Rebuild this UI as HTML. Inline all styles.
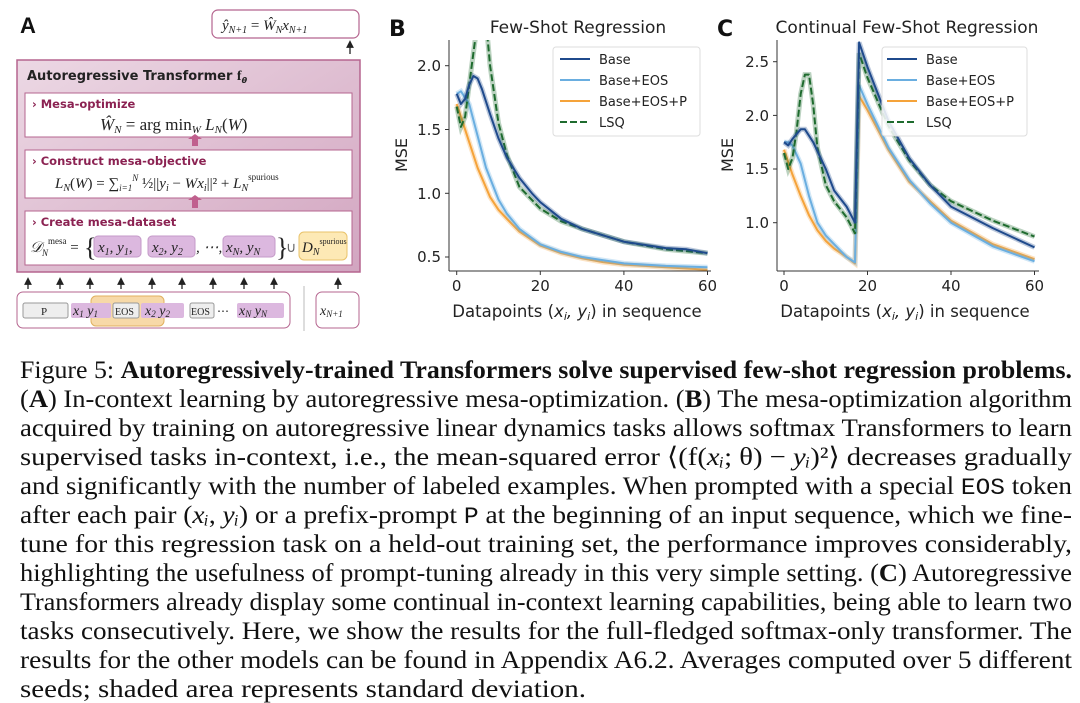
<!DOCTYPE html>
<html><head><meta charset="utf-8"><style>
html,body{margin:0;padding:0;background:#fff;}
svg{display:block;}
.cap{font-family:"Liberation Serif",serif;font-size:25.5px;fill:#111;}
.ax{font-family:"DejaVu Sans","Liberation Sans",sans-serif;fill:#222;}
.hd{font-family:"DejaVu Sans","Liberation Sans",sans-serif;font-weight:bold;font-size:11.5px;fill:#8b2252;}
.mt{font-family:"Liberation Serif",serif;font-style:italic;fill:#222;}
</style></head><body>
<svg id="s" width="1080" height="703" xmlns="http://www.w3.org/2000/svg">
<defs>
<linearGradient id="pg" x1="0" y1="0" x2="1" y2="1"><stop offset="0" stop-color="#ecd8e4"/><stop offset="1" stop-color="#d2a5c0"/></linearGradient>
<clipPath id="cb"><rect x="449" y="40" width="262" height="231"/></clipPath>
<clipPath id="cc"><rect x="777" y="40" width="262" height="231"/></clipPath>
<marker id="ar" markerWidth="6" markerHeight="6" refX="3" refY="3" orient="auto"><path d="M0,0 L6,3 L0,6 z" fill="#222"/></marker>
</defs>
<!-- Panel A -->
<text x="20" y="33" font-family="Liberation Sans,sans-serif" font-weight="bold" font-size="22" fill="#111">A</text>
<rect x="212" y="10" width="147" height="28" rx="6" fill="#fff" stroke="#b5658f" stroke-width="1.2"/>
<text x="222" y="30" class="mt" font-size="15">ŷ<tspan font-size="10" dy="3">N+1</tspan><tspan dy="-3" font-style="normal"> = </tspan>Ŵ<tspan font-size="10" dy="3">N</tspan><tspan dy="-3">x</tspan><tspan font-size="10" dy="3">N+1</tspan></text>
<line x1="350" y1="54" x2="350" y2="44" stroke="#222" stroke-width="1.3" marker-end="url(#ar)"/>
<rect x="17" y="60" width="343" height="212" fill="url(#pg)" stroke="#b5658f" stroke-width="1.5"/>
<text x="27" y="80" font-family="DejaVu Sans,sans-serif" font-weight="bold" font-size="13" fill="#222">Autoregressive Transformer <tspan font-family="Liberation Serif,serif" font-size="14">f</tspan><tspan font-size="8" dy="3" font-style="italic">θ</tspan></text>
<rect x="25" y="93" width="327" height="44" fill="#fff" stroke="#b5658f"/>
<text x="32" y="108" class="hd">› Mesa-optimize</text>
<text x="100" y="130" class="mt" font-size="17">Ŵ<tspan font-size="11" dy="3">N</tspan><tspan dy="-3" font-style="normal"> = arg min</tspan><tspan font-size="11" dy="3">W</tspan><tspan dy="-3"> L</tspan><tspan font-size="11" dy="3">N</tspan><tspan dy="-3" font-style="normal">(</tspan>W<tspan font-style="normal">)</tspan></text>
<path d="M188,139 l7,-5 l7,5 h-4 v7 h-6 v-7 z" fill="#c0608e"/>
<rect x="25" y="150" width="327" height="48" fill="#fff" stroke="#b5658f"/>
<text x="32" y="165" class="hd">› Construct mesa-objective</text>
<text x="55" y="188" class="mt" font-size="15">L<tspan font-size="10" dy="3">N</tspan><tspan dy="-3" font-style="normal">(</tspan>W<tspan font-style="normal">) = ∑</tspan><tspan font-size="9" dy="3">i=1</tspan><tspan font-size="9" dy="-10">N</tspan><tspan dy="7" font-style="normal"> ½||</tspan>y<tspan font-size="10" dy="3">i</tspan><tspan dy="-3" font-style="normal"> − </tspan>Wx<tspan font-size="10" dy="3">i</tspan><tspan dy="-3" font-style="normal">||² + </tspan>L<tspan font-size="10" dy="3">N</tspan><tspan font-size="9" dy="-11" font-style="normal">spurious</tspan></text>
<path d="M188,200 l7,-5 l7,5 h-4 v8 h-6 v-8 z" fill="#c0608e"/>
<rect x="25" y="211" width="327" height="54" fill="#fff" stroke="#b5658f"/>
<text x="32" y="226" class="hd">› Create mesa-dataset</text>
<text x="30" y="252" class="mt" font-size="15">𝒟<tspan font-size="9" dy="4">N</tspan><tspan font-size="9" dy="-12" font-style="normal">mesa</tspan><tspan dy="8" font-style="normal" font-size="15"> =</tspan></text>
<text x="84" y="256" font-family="Liberation Serif,serif" font-size="26" fill="#222">{</text>
<rect x="94" y="236" width="47" height="21" rx="4" fill="#dcb8df" stroke="#c49ac8"/>
<rect x="148" y="236" width="47" height="21" rx="4" fill="#dcb8df" stroke="#c49ac8"/>
<rect x="223" y="236" width="52" height="21" rx="4" fill="#dcb8df" stroke="#c49ac8"/>
<text x="98" y="252" class="mt" font-size="15">x<tspan font-size="10" dy="3">1</tspan><tspan dy="-3">, y</tspan><tspan font-size="10" dy="3">1</tspan><tspan dy="-3" font-style="normal">,   </tspan></text>
<text x="152" y="252" class="mt" font-size="15">x<tspan font-size="10" dy="3">2</tspan><tspan dy="-3">, y</tspan><tspan font-size="10" dy="3">2</tspan></text>
<text x="196" y="252" class="mt" font-size="15" font-style="normal">, ⋯,</text>
<text x="226" y="252" class="mt" font-size="15">x<tspan font-size="10" dy="3">N</tspan><tspan dy="-3">, y</tspan><tspan font-size="10" dy="3">N</tspan></text>
<text x="276" y="256" font-family="Liberation Serif,serif" font-size="26" fill="#222">}</text>
<text x="286" y="252" font-family="Liberation Serif,serif" font-size="14" fill="#666">∪</text>
<rect x="299" y="232" width="48" height="28" rx="5" fill="#fde9b5" stroke="#e9c36b"/>
<text x="302" y="252" class="mt" font-size="15">D<tspan font-size="10" dy="3">N</tspan><tspan font-size="8" dy="-11" font-style="normal">spurious</tspan></text>
<g stroke="#222" stroke-width="1.3">
<line x1="28" y1="289" x2="28" y2="281" marker-end="url(#ar)"/><line x1="60" y1="289" x2="60" y2="281" marker-end="url(#ar)"/><line x1="90" y1="289" x2="90" y2="281" marker-end="url(#ar)"/><line x1="121" y1="289" x2="121" y2="281" marker-end="url(#ar)"/><line x1="152" y1="289" x2="152" y2="281" marker-end="url(#ar)"/><line x1="182" y1="289" x2="182" y2="281" marker-end="url(#ar)"/><line x1="213" y1="289" x2="213" y2="281" marker-end="url(#ar)"/><line x1="244" y1="289" x2="244" y2="281" marker-end="url(#ar)"/><line x1="274" y1="289" x2="274" y2="281" marker-end="url(#ar)"/><line x1="338" y1="289" x2="338" y2="281" marker-end="url(#ar)"/>
</g>
<rect x="17" y="292" width="273" height="36" rx="6" fill="#fff" stroke="#b5658f"/>
<rect x="91" y="296" width="73" height="30" rx="5" fill="#f7d9a8" stroke="#e0b060"/>
<rect x="23" y="303" width="45" height="15" rx="2" fill="#eee" stroke="#999"/>
<text x="41" y="315" font-family="Liberation Serif,serif" font-size="11" fill="#222">P</text>
<rect x="71" y="303" width="40" height="15" rx="2" fill="#dcb8df"/>
<rect x="113" y="303" width="26" height="15" rx="2" fill="#eee" stroke="#999"/>
<rect x="141" y="303" width="43" height="15" rx="2" fill="#dcb8df"/>
<rect x="190" y="303" width="24" height="15" rx="2" fill="#eee" stroke="#999"/>
<rect x="237" y="303" width="47" height="15" rx="2" fill="#dcb8df"/>
<text x="73" y="315" class="mt" font-size="14">x<tspan font-size="9" dy="2">1</tspan><tspan dy="-2"> y</tspan><tspan font-size="9" dy="2">1</tspan></text>
<text x="115" y="315" font-family="Liberation Serif,serif" font-size="10" fill="#222">EOS</text>
<text x="145" y="315" class="mt" font-size="14">x<tspan font-size="9" dy="2">2</tspan><tspan dy="-2"> y</tspan><tspan font-size="9" dy="2">2</tspan></text>
<text x="191" y="315" font-family="Liberation Serif,serif" font-size="10" fill="#222">EOS</text>
<text x="217" y="315" font-family="Liberation Serif,serif" font-size="12" fill="#222">⋯</text>
<text x="239" y="315" class="mt" font-size="14">x<tspan font-size="9" dy="2">N</tspan><tspan dy="-2"> y</tspan><tspan font-size="9" dy="2">N</tspan></text>
<line x1="304" y1="286" x2="304" y2="331" stroke="#bbb"/>
<rect x="316" y="292" width="43" height="36" rx="6" fill="#fff" stroke="#b5658f"/>
<text x="320" y="315" class="mt" font-size="14">x<tspan font-size="9" dy="2">N+1</tspan></text>

<!-- Panel B -->
<text x="389" y="36" font-family="DejaVu Sans,sans-serif" font-weight="bold" font-size="22" fill="#111">B</text>
<text x="578" y="33" text-anchor="middle" class="ax" font-size="17">Few-Shot Regression</text>
<g id="gb" clip-path="url(#cb)"></g>
<g stroke="#333" stroke-width="1"><line x1="449" y1="40" x2="449" y2="271"/><line x1="449" y1="271" x2="711" y2="271"/></g>
<g class="ax" font-size="15" text-anchor="end">
<text x="441" y="71">2.0</text><text x="441" y="135">1.5</text><text x="441" y="199">1.0</text><text x="441" y="262">0.5</text></g>
<g stroke="#333"><line x1="445" y1="65.7" x2="449" y2="65.7"/><line x1="445" y1="129.5" x2="449" y2="129.5"/><line x1="445" y1="193.3" x2="449" y2="193.3"/><line x1="445" y1="257" x2="449" y2="257"/>
<line x1="456.7" y1="271" x2="456.7" y2="275"/><line x1="540.3" y1="271" x2="540.3" y2="275"/><line x1="623.9" y1="271" x2="623.9" y2="275"/><line x1="707.5" y1="271" x2="707.5" y2="275"/></g>
<g class="ax" font-size="15" text-anchor="middle"><text x="456.7" y="291">0</text><text x="540.3" y="291">20</text><text x="623.9" y="291">40</text><text x="707.5" y="291">60</text></g>
<text x="577" y="317" text-anchor="middle" class="ax" font-size="16.5">Datapoints (<tspan font-style="italic">x<tspan font-size="11" dy="3">i</tspan><tspan dy="-3">, y</tspan><tspan font-size="11" dy="3">i</tspan></tspan><tspan dy="-3">) in sequence</tspan></text>
<text transform="translate(407,155) rotate(-90)" text-anchor="middle" class="ax" font-size="16">MSE</text>
<rect x="553" y="47" width="147" height="89" rx="3" fill="#fff" fill-opacity="0.85" stroke="#ddd"/>
<g stroke-width="2"><line x1="560" y1="59" x2="590" y2="59" stroke="#1f4a8c"/><line x1="560" y1="80" x2="590" y2="80" stroke="#6aaee0"/><line x1="560" y1="101" x2="590" y2="101" stroke="#f5a33a"/><line x1="560" y1="122" x2="590" y2="122" stroke="#1e6b2e" stroke-dasharray="7,3"/></g>
<g class="ax" font-size="13"><text x="599" y="64">Base</text><text x="599" y="85">Base+EOS</text><text x="599" y="106">Base+EOS+P</text><text x="599" y="127">LSQ</text></g>

<!-- Panel C -->
<text x="717" y="36" font-family="DejaVu Sans,sans-serif" font-weight="bold" font-size="22" fill="#111">C</text>
<text x="907" y="33" text-anchor="middle" class="ax" font-size="17">Continual Few-Shot Regression</text>
<g id="gc" clip-path="url(#cc)"></g>
<g stroke="#333" stroke-width="1"><line x1="777" y1="40" x2="777" y2="271"/><line x1="777" y1="271" x2="1039" y2="271"/></g>
<g class="ax" font-size="15" text-anchor="end">
<text x="769" y="67">2.5</text><text x="769" y="121">2.0</text><text x="769" y="174">1.5</text><text x="769" y="228">1.0</text></g>
<g stroke="#333"><line x1="773" y1="61.7" x2="777" y2="61.7"/><line x1="773" y1="115.4" x2="777" y2="115.4"/><line x1="773" y1="169" x2="777" y2="169"/><line x1="773" y1="222.7" x2="777" y2="222.7"/>
<line x1="784" y1="271" x2="784" y2="275"/><line x1="867.5" y1="271" x2="867.5" y2="275"/><line x1="951" y1="271" x2="951" y2="275"/><line x1="1034.5" y1="271" x2="1034.5" y2="275"/></g>
<g class="ax" font-size="15" text-anchor="middle"><text x="784" y="291">0</text><text x="867.5" y="291">20</text><text x="951" y="291">40</text><text x="1034.5" y="291">60</text></g>
<text x="905" y="317" text-anchor="middle" class="ax" font-size="16.5">Datapoints (<tspan font-style="italic">x<tspan font-size="11" dy="3">i</tspan><tspan dy="-3">, y</tspan><tspan font-size="11" dy="3">i</tspan></tspan><tspan dy="-3">) in sequence</tspan></text>
<text transform="translate(733,155) rotate(-90)" text-anchor="middle" class="ax" font-size="16">MSE</text>
<rect x="882" y="47" width="145" height="89" rx="3" fill="#fff" fill-opacity="0.85" stroke="#ddd"/>
<g stroke-width="2"><line x1="887" y1="59" x2="917" y2="59" stroke="#1f4a8c"/><line x1="887" y1="80" x2="917" y2="80" stroke="#6aaee0"/><line x1="887" y1="101" x2="917" y2="101" stroke="#f5a33a"/><line x1="887" y1="122" x2="917" y2="122" stroke="#1e6b2e" stroke-dasharray="7,3"/></g>
<g class="ax" font-size="13"><text x="926" y="64">Base</text><text x="926" y="85">Base+EOS</text><text x="926" y="106">Base+EOS+P</text><text x="926" y="127">LSQ</text></g>

<!-- Caption -->
<g class="cap">
<text x="20" y="378" textLength="1052" lengthAdjust="spacingAndGlyphs">Figure 5: <tspan font-weight="bold">Autoregressively-trained Transformers solve supervised few-shot regression problems.</tspan></text>
<text x="20" y="407" textLength="1052" lengthAdjust="spacingAndGlyphs">(<tspan font-weight="bold">A</tspan>) In-context learning by autoregressive mesa-optimization. (<tspan font-weight="bold">B</tspan>) The mesa-optimization algorithm</text>
<text x="20" y="436" textLength="1052" lengthAdjust="spacingAndGlyphs">acquired by training on autoregressive linear dynamics tasks allows softmax Transformers to learn</text>
<text x="20" y="465" textLength="1052" lengthAdjust="spacingAndGlyphs">supervised tasks in-context, i.e., the mean-squared error ⟨(f(<tspan font-style="italic">xᵢ</tspan>; θ) − <tspan font-style="italic">yᵢ</tspan>)²⟩ decreases gradually</text>
<text x="20" y="494" textLength="1052" lengthAdjust="spacingAndGlyphs">and significantly with the number of labeled examples. When prompted with a special <tspan font-family="Liberation Mono,monospace" font-size="23">EOS</tspan> token</text>
<text x="20" y="523" textLength="1052" lengthAdjust="spacingAndGlyphs">after each pair (<tspan font-style="italic">xᵢ</tspan>, <tspan font-style="italic">yᵢ</tspan>) or a prefix-prompt <tspan font-family="Liberation Mono,monospace" font-size="23">P</tspan> at the beginning of an input sequence, which we fine-</text>
<text x="20" y="552" textLength="1052" lengthAdjust="spacingAndGlyphs">tune for this regression task on a held-out training set, the performance improves considerably,</text>
<text x="20" y="581" textLength="1052" lengthAdjust="spacingAndGlyphs">highlighting the usefulness of prompt-tuning already in this very simple setting. (<tspan font-weight="bold">C</tspan>) Autoregressive</text>
<text x="20" y="610" textLength="1052" lengthAdjust="spacingAndGlyphs">Transformers already display some continual in-context learning capabilities, being able to learn two</text>
<text x="20" y="639" textLength="1052" lengthAdjust="spacingAndGlyphs">tasks consecutively. Here, we show the results for the full-fledged softmax-only transformer. The</text>
<text x="20" y="668" textLength="1052" lengthAdjust="spacingAndGlyphs">results for the other models can be found in Appendix A6.2. Averages computed over 5 different</text>
<text x="20" y="697" textLength="566" lengthAdjust="spacingAndGlyphs">seeds; shaded area represents standard deviation.</text>
</g>
</svg>
<script>
function mk(gid,x0,sx,y0,v0,sy,data){
  var g=document.getElementById(gid),ns="http://www.w3.org/2000/svg";
  data.forEach(function(d){
    var pts=d.p,s="";
    for(var i=0;i<pts.length;i+=2){
      var x=x0+pts[i]*sx,y=y0-(pts[i+1]-v0)*sy;
      s+=(i?"L":"M")+x.toFixed(1)+","+y.toFixed(1);
    }
    var h=document.createElementNS(ns,"path");
    h.setAttribute("d",s);h.setAttribute("fill","none");h.setAttribute("stroke",d.c);
    h.setAttribute("stroke-opacity","0.3");h.setAttribute("stroke-width","5");g.appendChild(h);
    var p=document.createElementNS(ns,"path");
    p.setAttribute("d",s);p.setAttribute("fill","none");p.setAttribute("stroke",d.c);
    p.setAttribute("stroke-width","2");p.setAttribute("stroke-linejoin","round");
    if(d.dash)p.setAttribute("stroke-dasharray","7,3");
    g.appendChild(p);
  });
}
var B="#1f4a8c",E="#6aaee0",P="#f5a33a",L="#1e6b2e";
mk("gb",456.7,4.18,257,0.5,127.5,[
 {c:P,p:[0,1.7,2,1.5,5,1.2,8,0.97,10,0.87,12,0.8,15,0.7,20,0.59,25,0.53,30,0.49,35,0.46,40,0.44,50,0.42,60,0.40]},
 {c:E,p:[0,1.78,1,1.80,2,1.75,3,1.70,5,1.45,7,1.2,10,0.95,12,0.84,15,0.72,20,0.6,25,0.54,30,0.5,40,0.45,50,0.43,60,0.42]},
 {c:L,dash:1,p:[0,1.68,1,1.52,2,1.6,3,1.85,4,2.1,5,2.35,7,2.35,8,2.0,10,1.55,12,1.3,15,1.05,20,0.88,25,0.78,30,0.72,40,0.62,50,0.56,60,0.53]},
 {c:B,p:[0,1.78,1,1.70,2,1.74,3,1.85,4,1.92,5,1.9,6,1.82,8,1.62,10,1.43,12,1.28,15,1.12,18,1.0,20,0.93,25,0.8,30,0.72,35,0.67,40,0.62,50,0.57,55,0.56,60,0.53]}
]);
mk("gc",784,4.175,222.7,1.0,107.3,[
 {c:P,p:[0,1.68,2,1.45,4,1.25,6,1.07,8,0.93,10,0.83,12,0.76,15,0.68,17,0.62,18,2.18,20,2.05,25,1.68,30,1.38,35,1.2,40,1.02,50,0.8,60,0.66]},
 {c:E,p:[0,1.75,1,1.75,2,1.72,4,1.55,6,1.25,8,1.0,10,0.88,12,0.8,15,0.68,17,0.63,18,2.28,20,2.1,25,1.7,30,1.4,35,1.18,40,1.0,50,0.78,60,0.64]},
 {c:L,dash:1,p:[0,1.65,1,1.5,2,1.6,3,1.85,4,2.2,5,2.38,6,2.38,7,2.1,8,1.7,10,1.35,12,1.2,15,1.05,17,0.9,18,2.58,20,2.35,25,1.9,30,1.58,35,1.35,40,1.2,50,1.02,60,0.87]},
 {c:B,p:[0,1.75,1,1.72,2,1.78,4,1.87,5,1.87,7,1.75,10,1.5,12,1.3,15,1.15,17,1.0,18,2.68,20,2.45,25,1.95,30,1.6,35,1.35,40,1.15,50,0.95,60,0.77]}
]);
</script>
</body></html>
